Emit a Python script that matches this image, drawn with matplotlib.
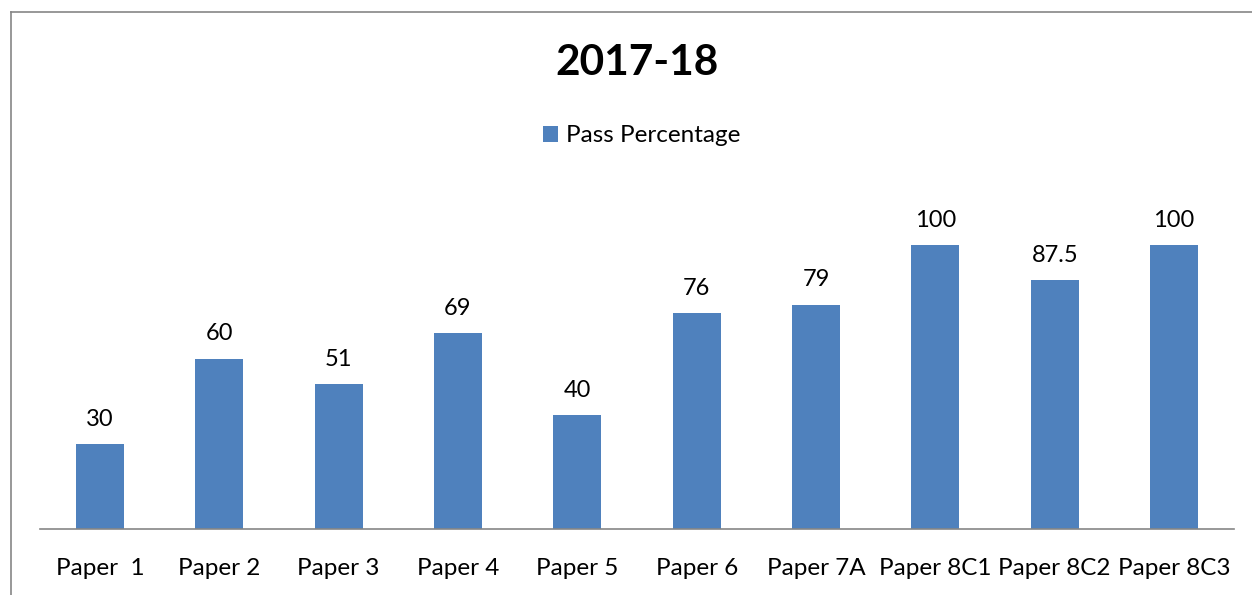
import matplotlib.pyplot as plt
from matplotlib.lines import Line2D

plt.rcParams['font.family'] = ['Lato', 'DejaVu Sans']

papers = ['Paper  1', 'Paper 2', 'Paper 3', 'Paper 4', 'Paper 5', 'Paper 6',
          'Paper 7A', 'Paper 8C1', 'Paper 8C2', 'Paper 8C3']
pass_pct = [30, 60, 51, 69, 40, 76, 79, 100, 87.5, 100]
value_labels = ['30', '60', '51', '69', '40', '76', '79', '100', '87.5', '100']

W, H = 1252, 595
fig = plt.figure(figsize=(W / 100, H / 100), dpi=100)

# chart frame (cropped on right and bottom)
fig.add_artist(Line2D([11 / W, 11 / W], [0, 1 - 12 / H], color='#868686', lw=1.2))
fig.add_artist(Line2D([11 / W, 1], [1 - 12 / H, 1 - 12 / H], color='#868686', lw=1.2))

left, right = 40.3, 1233.7
bottom, top = 529, 188
ax = fig.add_axes([left / W, 1 - bottom / H, (right - left) / W, (bottom - top) / H])

x = range(len(papers))
bars = ax.bar(x, pass_pct, width=0.4, color='#4F81BD', label='Pass Percentage')
for b, lab in zip(bars, value_labels):
    ax.text(b.get_x() + b.get_width() / 2, b.get_height() + 5, lab,
            ha='center', va='bottom', fontsize=17)

ax.set_xlim(-0.5, len(papers) - 0.5)
ax.set_ylim(0, 120)
ax.set_xticks(list(x))
ax.set_xticklabels(papers, fontsize=17.5)
ax.tick_params(axis='x', length=0, pad=21)
ax.set_yticks([])
for s in ['top', 'right', 'left']:
    ax.spines[s].set_visible(False)
ax.spines['bottom'].set_color('#868686')
ax.spines['bottom'].set_linewidth(1.2)

fig.text(637 / W, 1 - 63 / H, '2017-18', ha='center', va='center',
         fontsize=30.5, fontweight='bold')
fig.legend(handles=[bars], labels=['Pass Percentage'], loc='center',
           bbox_to_anchor=(642 / W, 1 - 136 / H), frameon=False, fontsize=17.5,
           handlelength=0.6, handleheight=0.6, handletextpad=0.35)

fig.savefig('out.png', dpi=100)
